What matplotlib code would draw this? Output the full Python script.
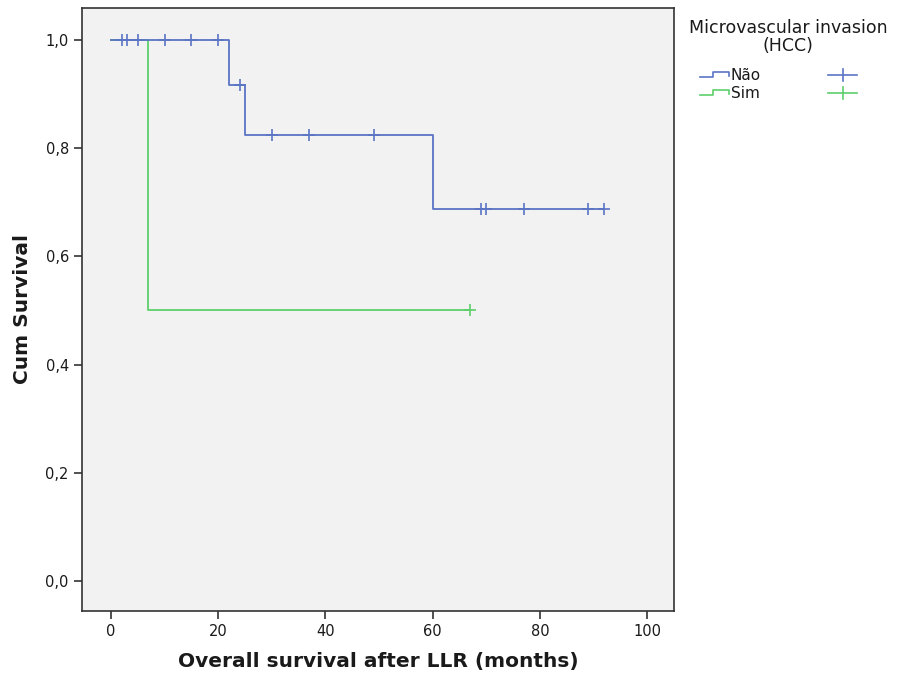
import matplotlib
matplotlib.use("Agg")
import matplotlib.pyplot as plt
from matplotlib.lines import Line2D

# Kaplan-Meier step data
nao_times = [0, 22, 25, 60, 92]
nao_surv = [1.0, 0.917, 0.825, 0.6875, 0.6875]
nao_cens_t = [2, 3, 5, 10, 15, 20, 24, 30, 37, 49, 69, 70, 77, 89, 92]
nao_cens_s = [1.0, 1.0, 1.0, 1.0, 1.0, 1.0, 0.917, 0.825, 0.825, 0.825,
              0.6875, 0.6875, 0.6875, 0.6875, 0.6875]

sim_times = [0, 7, 67]
sim_surv = [1.0, 0.5, 0.5]
sim_cens_t = [67]
sim_cens_s = [0.5]

groups = ["Não", "Sim"]
legend_title = "Microvascular invasion\n(HCC)"
xticks = [0, 20, 40, 60, 80, 100]
yticks = [0.0, 0.2, 0.4, 0.6, 0.8, 1.0]
ytick_labels = ["0,0", "0,2", "0,4", "0,6", "0,8", "1,0"]

blue = "#5b74c4"
green = "#5ccf6a"
text_col = "#1a1a1a"

fig = plt.figure(figsize=(9, 6.8), dpi=100)
ax = fig.add_axes([82/900, 1-611/680, (674-82)/900, (611-8)/680])
ax.set_facecolor("#f2f2f2")

ax.step(sim_times, sim_surv, where="post", color=green, lw=1.3, zorder=2)
ax.plot(sim_cens_t, sim_cens_s, ls="none", marker="+", ms=8, mew=1.2, color=green, zorder=3)
ax.step(nao_times, nao_surv, where="post", color=blue, lw=1.3, zorder=4)
ax.plot(nao_cens_t, nao_cens_s, ls="none", marker="+", ms=8, mew=1.2, color=blue, zorder=5)

ax.set_xlim(-5.4, 105.0)
ax.set_ylim(-0.0555, 1.059)
ax.set_xticks(xticks)
ax.set_yticks(yticks)
ax.set_yticklabels(ytick_labels)
ax.tick_params(direction="out", length=6, width=1.2, color="#333333",
               labelsize=10.5, labelcolor=text_col)
for sp in ax.spines.values():
    sp.set_color("#333333")
    sp.set_linewidth(1.2)

ax.set_xlabel("Overall survival after LLR (months)", fontsize=14.5, fontweight="bold",
              color=text_col, labelpad=9)
ax.set_ylabel("Cum Survival", fontsize=14.5, fontweight="bold", color=text_col, labelpad=10)

# Legend (drawn manually in pixel coordinates of the figure)
def fx(px):
    return px / 900
def fy(py):
    return 1 - py / 680

fig.text(fx(788), fy(28), legend_title.split("\n")[0], ha="center", va="center",
         fontsize=12.5, color=text_col)
fig.text(fx(788), fy(46), legend_title.split("\n")[1], ha="center", va="center",
         fontsize=12.5, color=text_col)

rows = [(groups[0], blue, 75), (groups[1], green, 93)]
for name, col, yy in rows:
    xs = [700, 713, 713, 729, 729]
    ys = [yy + 2, yy + 2, yy - 3, yy - 3, yy + 1]
    fig.add_artist(Line2D([fx(v) for v in xs], [fy(v) for v in ys], color=col, lw=1.2,
                          transform=fig.transFigure))
    fig.text(fx(731), fy(yy), name, ha="left", va="center", fontsize=11, color=text_col)
    # wide plus sign
    fig.add_artist(Line2D([fx(828), fx(857)], [fy(yy), fy(yy)], color=col, lw=1.2,
                          transform=fig.transFigure))
    fig.add_artist(Line2D([fx(842.5), fx(842.5)], [fy(yy - 6), fy(yy + 6)], color=col, lw=1.2,
                          transform=fig.transFigure))

fig.savefig("out.png", dpi=100, facecolor="white")
